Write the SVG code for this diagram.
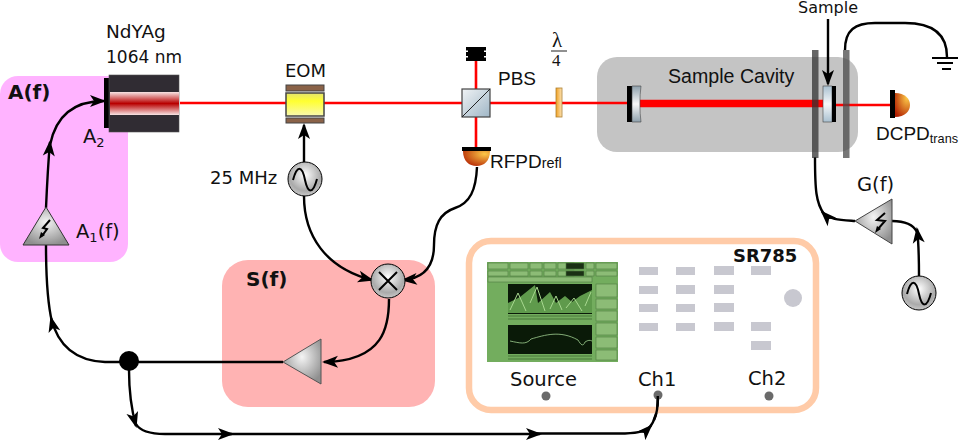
<svg xmlns="http://www.w3.org/2000/svg" width="961" height="440" viewBox="0 0 961 440">
<defs>
<radialGradient id="grey" cx="0.5" cy="0.4" r="0.62"><stop offset="0" stop-color="#f4f4f4"/><stop offset="1" stop-color="#8f8f8f"/></radialGradient>
<radialGradient id="disc" cx="0.5" cy="0.38" r="0.62"><stop offset="0" stop-color="#fff"/><stop offset="0.75" stop-color="#aaa"/><stop offset="1" stop-color="#c8c8c8"/></radialGradient>
<linearGradient id="beam" x1="0" y1="0" x2="0" y2="1"><stop offset="0" stop-color="#f7e4e4"/><stop offset="0.5" stop-color="#b80000"/><stop offset="1" stop-color="#f7e4e4"/></linearGradient>
<linearGradient id="yel" x1="0" y1="0" x2="0" y2="1"><stop offset="0" stop-color="#e4e470"/><stop offset="0.35" stop-color="#ffff30"/><stop offset="1" stop-color="#f8f8b0"/></linearGradient>
<linearGradient id="glass" x1="0" y1="0" x2="1" y2="1"><stop offset="0" stop-color="#f0f3f5"/><stop offset="1" stop-color="#9fb6c6"/></linearGradient>
<linearGradient id="wp" x1="0" y1="0" x2="1" y2="0"><stop offset="0" stop-color="#f0a020"/><stop offset="1" stop-color="#fce4b8"/></linearGradient>
<linearGradient id="mir" x1="0" y1="0" x2="0" y2="1"><stop offset="0" stop-color="#8ea0ac"/><stop offset="0.5" stop-color="#f8f8f8"/><stop offset="1" stop-color="#8ea0ac"/></linearGradient>
<linearGradient id="samp" x1="0" y1="0" x2="0" y2="1"><stop offset="0" stop-color="#a9c0d0"/><stop offset="0.5" stop-color="#f6f8fa"/><stop offset="1" stop-color="#a9c0d0"/></linearGradient>
<radialGradient id="pd" cx="0.8" cy="0.2" r="1"><stop offset="0" stop-color="#fcc848"/><stop offset="1" stop-color="#b01c00"/></radialGradient>
<marker id="ah" markerUnits="userSpaceOnUse" markerWidth="18" markerHeight="16" refX="14" refY="7" orient="auto" overflow="visible"><path d="M0 1L16 7L0 13L4 7Z" fill="#000"/></marker>
<symbol id="osc" overflow="visible"><circle r="17" fill="url(#disc)" stroke="#000" stroke-width="1"/><path d="M-12 1C-8 -14 -3 -14 0 1C3 15 8 15 12 0" fill="none" stroke="#000" stroke-width="2"/></symbol>
</defs>
<style>
text{font-family:"DejaVu Sans",sans-serif;font-size:18px;fill:#111}
.b{font-weight:bold;font-size:20px}
.m{font-size:19.5px}
.w{fill:none;stroke:#000;stroke-width:2.4}
.a{marker-end:url(#ah)}
.r{fill:none;stroke:#f00;stroke-width:2.6}
.key{fill:#c8c8d0}
.l{font-family:"Liberation Sans",sans-serif;font-size:19px}
.s{font-family:"Liberation Serif",serif}
.btn{fill:#8cbc76;stroke:#4d7a40;stroke-width:0.6}
</style>

<g id="A-region"><rect x="0" y="76" width="128" height="186" rx="18" fill="#ffb3ff"/><text class="b" x="8" y="99">A(f)</text></g>
<g id="S-region"><rect x="222" y="260" width="213" height="147" rx="26" fill="#ffb3b3"/><text class="b" x="246" y="286">S(f)</text></g>
<g id="cavity"><rect x="597" y="57" width="261" height="95" rx="20" fill="#c4c4c4"/><text class="l" x="668" y="83" style="font-size:19.6px">Sample Cavity</text></g>

<g id="beams">
<path class="r" d="M180 103H628M476 58V147M835 105H891"/>
<path d="M640 103.500H824" fill="none" stroke="#f00" stroke-width="7.500"/>
</g>

<g id="connectors">
<path class="w a" d="M46 208C47 185 48 165 50 142"/>
<path class="w a" d="M50 145C56 115 75 101 104 101"/>
<path class="w" d="M46 245C46 280 48 305 52 322"/>
<path class="w a" d="M122 362H105C80 361 59 350 51 318"/>
<path class="w" d="M129 362H283"/>
<path class="w a" d="M129 370C129 390 131 408 136 426"/>
<path class="w a" d="M136 424C140 431 150 434 165 434H232"/>
<path class="w a" d="M228 434H540"/>
<path class="w a" d="M536 433.500H625C640 433 646 431 651 426"/>
<path class="w" d="M649 428C656 420 658 410 658 396"/>
<path class="w a" d="M304 162V125"/>
<path class="w a" d="M304 196C304 235 325 268 372 280"/>
<path class="w a" d="M477 167C476 190 470 203 455 208C440 213 434 225 434 245C434 262 428 278 403 280"/>
<path class="w a" d="M389 299C389 325 385 361 324 362"/>
<path class="w a" d="M828 19V84"/>
<path class="w" d="M845 50C845 30 855 23 875 23H905C930 23 947 32 947 57"/>
<path class="w a" d="M855 221C840 220 830 220 822 212"/>
<path class="w" d="M815 157C815 190 816 203 824 214"/>
<path class="w" d="M892 221C905 221 913 224 917 232"/>
<path class="w a" d="M919 277C919 262 919 245 917 229"/>
</g>

<g id="laser"><rect x="104" y="78" width="5" height="50" fill="#000"/><rect x="109" y="75" width="70" height="57" fill="#302c33" stroke="#555" stroke-width="0.6"/><rect x="110" y="92" width="69" height="23" fill="url(#beam)"/>
<text x="106" y="38" style="font-size:18.500px">NdYAg</text><text x="106" y="63" style="font-size:17px">1064 nm</text></g>
<g id="A2"><text class="m" x="83" y="143">A<tspan font-size="13" style="font-size:13px" dy="4">2</tspan></text></g>
<g id="A1"><path d="M46 207L69 245H23Z" fill="url(#grey)" stroke="#333"/><path d="M50 220L43 228L47 229L42 236" fill="none" stroke="#000" stroke-width="2"/><path d="M39 239L41 232L45 235Z" fill="#000"/><text class="m" x="76" y="238">A<tspan style="font-size:13px" dy="4">1</tspan><tspan dy="-4">(f)</tspan></text></g>
<g id="eom"><rect x="286" y="85" width="38" height="6" fill="#8a6248" stroke="#444"/><rect x="286" y="93" width="38" height="23" fill="url(#yel)" stroke="#444" stroke-width="1.500"/><rect x="286" y="118" width="38" height="5" fill="#8a6248" stroke="#444"/><text x="285" y="77">EOM</text></g>
<g id="osc-25"><use href="#osc" x="305" y="179"/><text x="210" y="184">25 MHz</text></g>
<g id="dump"><rect x="468" y="47" width="16" height="14" fill="#000"/><rect x="466" y="47" width="20" height="3.500" fill="#000"/><rect x="466" y="52" width="20" height="4" fill="#000"/><rect x="466" y="57.500" width="20" height="3.500" fill="#000"/></g>
<g id="pbs"><rect x="462" y="89" width="28" height="28" fill="url(#glass)" stroke="#444" stroke-width="1.200"/><path d="M462 117L490 89" stroke="#222"/><text class="l" x="498" y="85">PBS</text></g>
<g id="wp"><rect x="556" y="88" width="6" height="29" fill="url(#wp)" stroke="#b08030" stroke-width="0.800"/><text x="552" y="47" style="font-size:21px;font-family:'Liberation Serif',serif">λ</text><path d="M551 51H567" stroke="#222"/><text x="552" y="66" style="font-size:17px;font-family:'Liberation Serif',serif">4</text></g>
<g id="rfpd"><rect x="462" y="147" width="29" height="4" fill="#000"/><path d="M463 151H490C490 161 484 166 476.500 166C469 166 463 161 463 151Z" fill="url(#pd)"/><text class="l" x="490" y="168">RFPD<tspan style="font-size:14.400px">refl</tspan></text></g>
<g id="mirror1"><rect x="627" y="86" width="5" height="36" fill="#000"/><path d="M632 86H641C639.500 97 639.500 111 641 122H632Z" fill="url(#mir)" stroke="#444" stroke-width="0.600"/></g>
<g id="sample"><rect x="823" y="86" width="9" height="36" fill="url(#samp)" stroke="#444" stroke-width="0.600"/><rect x="832" y="86" width="4" height="36" fill="#000"/><text x="798" y="13" style="font-size:16px">Sample</text></g>
<g id="plates"><rect x="812" y="50" width="6.500" height="108" fill="#333" opacity="0.75"/><rect x="843" y="50" width="6.500" height="108" fill="#4a4a4a" opacity="0.75"/></g>
<g id="ground"><path d="M932 58H958M937 63H953M942 69H951" stroke="#000" stroke-width="2"/></g>
<g id="dcpd"><rect x="890" y="90" width="5" height="28" fill="#000"/><path d="M895 93C905 93 910 99 910 105C910 111 905 117 895 117Z" fill="url(#pd)"/><text class="l" x="876" y="140">DCPD<tspan style="font-size:12.700px" dy="3">trans</tspan></text></g>
<g id="mixer"><circle cx="388" cy="281" r="17" fill="url(#disc)" stroke="#000"/><path d="M379 272L397 290M397 272L379 290" stroke="#000" stroke-width="2"/></g>
<g id="servo"><path d="M283 362L321 339V384Z" fill="url(#grey)" stroke="#555"/></g>
<g id="junction"><circle cx="129" cy="361" r="10" fill="#000"/></g>
<g id="G"><path d="M855 221L892 199V244Z" fill="url(#grey)" stroke="#444"/><path d="M885 213L877 220L885 221L878 229" fill="none" stroke="#000" stroke-width="2"/><path d="M875 233L877 226L881 229Z" fill="#000"/><text class="m" x="857" y="191">G(f)</text></g>
<g id="osc-G"><use href="#osc" x="919" y="293"/></g>

<g id="sr785">
<rect x="469" y="241" width="347" height="169" rx="22" fill="none" stroke="#ffcba8" stroke-width="6.500"/>
<rect x="487" y="262" width="131" height="100" fill="#73ad5e"/>
<g class="btn"><rect class="btn" x="488" y="263" width="20" height="6"/><rect class="btn" x="510" y="263" width="18" height="6"/><rect class="btn" x="530" y="263" width="12" height="6"/><rect class="btn" x="544" y="263" width="12" height="6"/><rect class="btn" x="558" y="263" width="16" height="6"/><rect x="566" y="263" width="18" height="6" style="fill:#1a3014"/><rect class="btn" x="586" y="263" width="8" height="6"/><rect class="btn" x="596" y="263" width="21" height="6"/>
<rect class="btn" x="488" y="271" width="20" height="5"/><rect class="btn" x="510" y="271" width="18" height="5"/><rect class="btn" x="530" y="271" width="12" height="5"/><rect class="btn" x="544" y="271" width="12" height="5"/><rect class="btn" x="558" y="271" width="16" height="5"/><rect x="566" y="271" width="18" height="5" style="fill:#1a3014"/><rect class="btn" x="586" y="271" width="8" height="5"/><rect class="btn" x="596" y="271" width="21" height="5"/>
<rect class="btn" x="488" y="277" width="104" height="5"/><rect class="btn" x="596" y="284" width="21" height="13"/><rect class="btn" x="596" y="299" width="21" height="10"/><rect class="btn" x="596" y="311" width="21" height="10"/><rect class="btn" x="596" y="323" width="21" height="12"/><rect class="btn" x="596" y="337" width="21" height="11"/><rect class="btn" x="596" y="350" width="21" height="10"/>
</g>
<rect x="508" y="284" width="84" height="30" fill="#0a1a08"/>
<path d="M508 303L520 297L535 285L538 303L550 292L556 303L565 296L572 302L580 296L592 290V313H508Z" fill="#5f9a4c"/>
<path d="M510 310L518 293L526 311M530 303L537 287L545 311M550 309L556 296L562 310M566 308L574 298L582 311M585 306L591 292" fill="none" stroke="#a8d890" stroke-width="1"/>
<path d="M508 316H592M508 319H592" stroke="#3d6a30" stroke-width="0.800"/>
<rect x="508" y="325" width="84" height="29" fill="#0a1a08"/>
<path d="M510 341C520 343 526 345 531 339C545 335 560 330 578 340C581 345 583 347 585 342C588 340 590 340 592 341" fill="none" stroke="#9fcf90" stroke-width="0.800"/>
<path d="M508 356H592M508 359H592" stroke="#3d6a30" stroke-width="0.800"/>
<g class="key"><rect x="639" y="267" width="19" height="8"/><rect x="676" y="267" width="19" height="8"/><rect x="714" y="266" width="20" height="9"/><rect x="751" y="266" width="20" height="9"/>
<rect x="639" y="286" width="19" height="8"/><rect x="676" y="285" width="19" height="9"/><rect x="714" y="285" width="20" height="9"/>
<rect x="639" y="304" width="19" height="8"/><rect x="676" y="304" width="19" height="8"/><rect x="714" y="303" width="20" height="9"/>
<rect x="639" y="323" width="19" height="8"/><rect x="676" y="323" width="19" height="8"/><rect x="714" y="322" width="20" height="9"/><rect x="751" y="322" width="20" height="9"/><rect x="751" y="341" width="20" height="9"/></g>
<circle cx="793" cy="298" r="9" fill="#c8c8d0"/>
<text class="b" x="733" y="262" style="font-size:18px">SR785</text>
<text class="m" x="510" y="386">Source</text><text class="m" x="638" y="386">Ch1</text><text class="m" x="748" y="385">Ch2</text>
<circle cx="546" cy="396" r="4.500" fill="#6a6a6a"/><circle cx="658" cy="395" r="4.500" fill="#6a6a6a"/><circle cx="769" cy="396" r="4.500" fill="#6a6a6a"/>
<path d="M657.800 396C658 406 657 414 654 420" fill="none" stroke="#000" stroke-width="2.400"/>
</g>
</svg>
